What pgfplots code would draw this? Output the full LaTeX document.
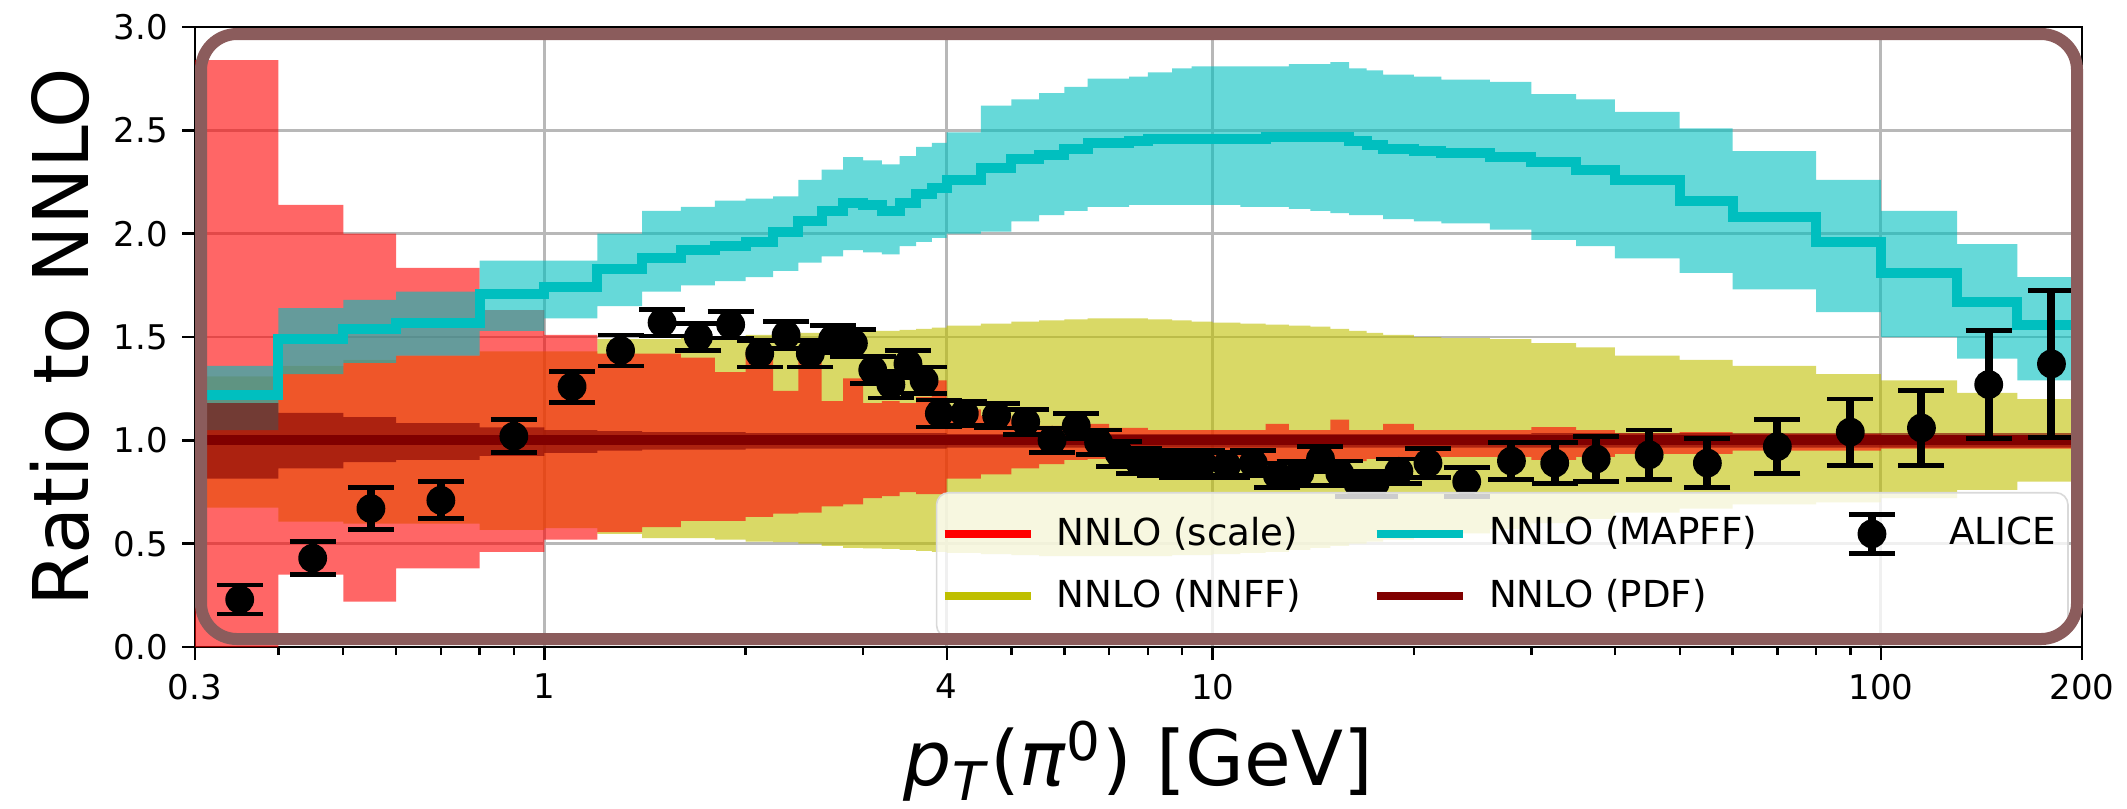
\documentclass[border=0pt]{standalone}
\usepackage{fontspec}
\setmainfont{DejaVu Sans}
\usepackage{pgfplots}
\usepackage{pgfplotstable}
\pgfplotsset{compat=1.18}
\usepgfplotslibrary{fillbetween}

\definecolor{nnffcol}{RGB}{191,191,0}
\definecolor{scalecol}{RGB}{255,0,0}
\definecolor{mapffcol}{RGB}{0,191,191}
\definecolor{pdfcol}{RGB}{128,0,0}
\definecolor{framecol}{RGB}{139,92,92}

% theory bins: left edge, NNFF band, scale band, MAPFF band (low/central/high), PDF band
\pgfplotstableread{
x     ylo    yhi    rlo    rhi    clo    cmid   chi    plo    phi
0.3   0.675  1.31   0.00   2.84   1.05   1.22   1.36   0.815  1.18
0.4   0.607  1.36   0.35   2.14   1.32   1.49   1.64   0.865  1.133
0.5   0.597  1.39   0.22   2.00   1.375  1.54   1.68   0.895  1.113
0.6   0.597  1.41   0.38   1.835  1.41   1.57   1.72   0.905  1.083
0.8   0.567  1.43   0.46   1.63   1.53   1.71   1.87   0.925  1.063
1.0   0.575  1.43   0.52   1.51   1.59   1.74   1.87   0.94   1.05
1.2   0.547  1.49   0.556  1.42   1.65   1.83   2.00   0.95   1.045
1.4   0.527  1.49   0.58   1.42   1.72   1.88   2.11   0.955  1.04
1.6   0.527  1.50   0.61   1.40   1.75   1.92   2.13   0.955  1.04
1.8   0.52   1.50   0.61   1.33   1.77   1.94   2.16   0.955  1.04
2.0   0.51   1.51   0.63   1.43   1.79   1.96   2.17   0.96   1.035
2.2   0.507  1.51   0.645  1.24   1.82   2.01   2.18   0.96   1.035
2.4   0.50   1.52   0.65   1.40   1.86   2.06   2.26   0.96   1.035
2.6   0.49   1.52   0.68   1.19   1.89   2.11   2.31   0.96   1.035
2.8   0.48   1.53   0.69   1.30   1.92   2.15   2.37   0.96   1.035
3.0   0.477  1.53   0.72   1.18   1.91   2.14   2.355  0.96   1.035
3.2   0.475  1.53   0.73   1.19   1.90   2.11   2.335  0.96   1.035
3.4   0.47   1.535  0.75   1.18   1.94   2.15   2.375  0.96   1.035
3.6   0.465  1.54   0.74   1.21   1.96   2.19   2.42   0.96   1.035
3.8   0.46   1.545  0.74   1.29   1.98   2.22   2.44   0.96   1.035
4.0   0.455  1.555  0.815  1.15   2.00   2.26   2.49   0.965  1.03
4.5   0.45   1.565  0.835  1.12   2.01   2.32   2.62   0.965  1.03
5.0   0.445  1.575  0.865  1.10   2.06   2.36   2.65   0.965  1.03
5.5   0.44   1.58   0.885  1.07   2.09   2.38   2.68   0.965  1.03
6.0   0.44   1.585  0.905  1.07   2.11   2.41   2.71   0.965  1.03
6.5   0.44   1.59   0.91   1.08   2.13   2.44   2.75   0.965  1.03
7.0   0.44   1.59   0.915  1.06   2.13   2.44   2.75   0.965  1.03
7.5   0.44   1.59   0.92   1.06   2.14   2.45   2.76   0.965  1.03
8.0   0.44   1.585  0.93   1.05   2.14   2.46   2.78   0.965  1.03
8.7   0.445  1.58   0.93   1.05   2.14   2.46   2.80   0.965  1.03
9.3   0.445  1.575  0.93   1.05   2.14   2.46   2.81   0.965  1.03
10    0.45   1.57   0.92   1.05   2.14   2.46   2.81   0.965  1.03
11    0.455  1.565  0.90   1.05   2.13   2.46   2.81   0.965  1.03
12    0.46   1.56   0.90   1.08   2.13   2.47   2.81   0.965  1.03
13    0.47   1.555  0.90   1.05   2.12   2.47   2.82   0.965  1.03
14    0.48   1.55   0.90   1.05   2.11   2.47   2.82   0.965  1.03
15    0.49   1.54   0.90   1.10   2.10   2.47   2.83   0.965  1.03
16    0.50   1.53   0.90   1.05   2.09   2.45   2.80   0.965  1.03
17    0.51   1.52   0.91   1.05   2.09   2.43   2.79   0.965  1.03
18    0.52   1.51   0.91   1.08   2.07   2.41   2.77   0.965  1.03
20    0.53   1.50   0.92   1.05   2.06   2.40   2.76   0.965  1.03
22    0.55   1.495  0.92   1.05   2.05   2.39   2.745  0.965  1.03
26    0.57   1.49   0.92   1.05   2.02   2.37   2.735  0.965  1.03
30    0.60   1.47   0.905  1.064  1.97   2.345  2.675  0.965  1.035
35    0.62   1.45   0.92   1.05   1.94   2.31   2.65   0.965  1.035
40    0.65   1.41   0.935  1.034  1.88   2.26   2.59   0.965  1.035
50    0.67   1.39   0.935  1.04   1.81   2.16   2.51   0.965  1.035
60    0.69   1.36   0.95   1.03   1.73   2.08   2.40   0.965  1.035
80    0.70   1.32   0.95   1.03   1.62   1.96   2.26   0.965  1.035
100   0.72   1.29   0.96   1.02   1.50   1.81   2.11   0.965  1.035
130   0.76   1.23   0.96   1.02   1.395  1.67   1.95   0.965  1.035
160   0.80   1.20   0.96   1.02   1.29   1.56   1.79   0.965  1.035
200   0.80   1.20   0.96   1.02   1.29   1.56   1.79   0.965  1.035
}\theory

% ALICE measurement: bin centre, ratio, uncertainty
\pgfplotstableread{
x     y      e
0.35  0.23   0.07
0.45  0.43   0.08
0.55  0.67   0.10
0.7   0.71   0.09
0.9   1.02   0.08
1.1   1.26   0.075
1.3   1.435  0.075
1.5   1.57   0.065
1.7   1.50   0.065
1.9   1.56   0.065
2.1   1.42   0.065
2.3   1.51   0.065
2.5   1.42   0.065
2.7   1.49   0.065
2.9   1.47   0.065
3.1   1.34   0.065
3.3   1.27   0.065
3.5   1.37   0.065
3.7   1.29   0.065
3.9   1.13   0.065
4.25  1.13   0.06
4.75  1.12   0.06
5.25  1.09   0.06
5.75  1.00   0.06
6.25  1.07   0.06
6.75  0.99   0.06
7.25  0.935  0.06
7.75  0.90   0.06
8.35  0.89   0.06
9.0   0.88   0.06
9.65  0.89   0.06
10.5  0.88   0.06
11.5  0.89   0.06
12.5  0.83   0.06
13.5  0.84   0.06
14.5  0.91   0.06
15.5  0.84   0.06
16.5  0.79   0.06
17.5  0.79   0.06
19    0.85   0.06
21    0.89   0.07
24    0.80   0.07
28    0.90   0.09
32.5  0.89   0.10
37.5  0.91   0.11
45    0.93   0.12
55    0.89   0.12
70    0.97   0.13
90    1.04   0.16
115   1.06   0.18
145   1.27   0.26
180   1.37   0.355
}\alice

\pgfplotsset{
  bandleg/.style={legend image code/.code={%
    \draw[##1, line width=2pt, draw opacity=1] (0pt,0pt) -- (21.5pt,0pt);}},
  dataleg/.style={legend image code/.code={%
    \path[draw=none] (0pt,0pt) -- (24.5pt,0pt);
    \draw[black, draw opacity=1, line width=2pt] (10.75pt,-4.9pt) -- (10.75pt,4.9pt);
    \draw[black, draw opacity=1, line width=1.2pt] (5pt,-4.9pt) -- (16.5pt,-4.9pt)
         (5pt,4.9pt) -- (16.5pt,4.9pt);
    \fill[black, fill opacity=1] (10.75pt,0pt) circle (3.4pt);}},
}

\begin{document}
\begin{tikzpicture}
\begin{axis}[
  scale only axis,
  width=471.75pt, height=155pt,
  xmode=log,
  xmin=0.3, xmax=200, ymin=0, ymax=3,
  xtick={0.3,1,4,10,100,200},
  xticklabels={0.3,1,4,10,100,200},
  minor xtick={0.4,0.5,0.6,0.7,0.8,0.9,2,3,5,6,7,8,9,20,30,40,50,60,70,80,90},
  ytick={0,0.5,1,1.5,2,2.5,3},
  yticklabels={0.0,0.5,1.0,1.5,2.0,2.5,3.0},
  tick pos=left,
  tick align=outside,
  major tick length=3.25pt,
  minor tick length=2pt,
  tick style={black, line width=0.6pt},
  axis line style={black, line width=0.6pt},
  grid=major,
  major grid style={black!28, line width=0.7pt},
  tick label style={font=\fontsize{8.5}{10}\selectfont},
  xlabel={\textit{p}\textsubscript{\textit{T}}(\textit{π}\textsuperscript{0}) [GeV]},
  ylabel={Ratio to NNLO},
  xlabel style={font=\fontsize{19}{23}\selectfont, at={(axis description cs:0.5,-0.2235)}, anchor=base},
  ylabel style={font=\fontsize{19.2}{23}\selectfont, at={(axis description cs:-0.0567,0.5)}, anchor=base},
  legend columns=3,
  legend style={at={(0.993,0.0145)}, anchor=south east,
    font=\fontsize{9.3}{11}\selectfont,
    fill=white, fill opacity=0.8, draw opacity=1, text opacity=1,
    draw=black!15, rounded corners=3pt,
    inner xsep=1pt, inner ysep=4pt, row sep=3pt,
    /tikz/every odd column/.append style={column sep=3.6pt},
    /tikz/every even column/.append style={column sep=16pt},
    /tikz/column 4/.append style={column sep=19.5pt}},
  legend cell align=left,
]
% NNFF band
\addplot[name path=yl, draw=none, const plot, forget plot] table[x=x, y=ylo] {\theory};
\addplot[name path=yh, draw=none, const plot, forget plot] table[x=x, y=yhi] {\theory};
\addplot[fill=nnffcol, fill opacity=0.6, draw=none, forget plot] fill between[of=yl and yh];
% scale band
\addplot[name path=rl, draw=none, const plot, forget plot] table[x=x, y=rlo] {\theory};
\addplot[name path=rh, draw=none, const plot, forget plot] table[x=x, y=rhi] {\theory};
\addplot[fill=scalecol, fill opacity=0.6, draw=none, forget plot] fill between[of=rl and rh];
% MAPFF band
\addplot[name path=cl, draw=none, const plot, forget plot] table[x=x, y=clo] {\theory};
\addplot[name path=ch, draw=none, const plot, forget plot] table[x=x, y=chi] {\theory};
\addplot[fill=mapffcol, fill opacity=0.6, draw=none, forget plot] fill between[of=cl and ch];
% PDF band
\addplot[name path=pl, draw=none, const plot, forget plot] table[x=x, y=plo] {\theory};
\addplot[name path=ph, draw=none, const plot, forget plot] table[x=x, y=phi] {\theory};
\addplot[fill=pdfcol, fill opacity=0.6, draw=none, forget plot] fill between[of=pl and ph];
% central values
\addplot[mapffcol, line width=2.5pt, const plot, forget plot] table[x=x, y=cmid] {\theory};
\addplot[pdfcol, line width=2.5pt, forget plot] coordinates {(0.3,1) (200,1)};
% ALICE points
\addplot[black, only marks, mark=*, mark size=3.4pt, forget plot,
  error bars/.cd, y dir=both, y explicit,
  error bar style={line width=2pt},
  error mark options={rotate=90, mark size=5.75pt, line width=1.2pt}]
  table[x=x, y=y, y error=e] {\alice};
% legend entries, row by row
\addlegendimage{bandleg, scalecol}
\addlegendentry{NNLO (scale)}
\addlegendimage{bandleg, mapffcol}
\addlegendentry{NNLO (MAPFF)}
\addlegendimage{dataleg}
\addlegendentry{ALICE}
\addlegendimage{bandleg, nnffcol}
\addlegendentry{NNLO (NNFF)}
\addlegendimage{bandleg, pdfcol}
\addlegendentry{NNLO (PDF)}
\end{axis}
% highlight frame around the plot area
\draw[framecol, line width=3pt, rounded corners=9pt] (1.5pt,2pt) rectangle (470.5pt,153.25pt);
\pgfresetboundingbox
\path[use as bounding box] (-48.75pt,-40.25pt) rectangle (483pt,161.75pt);
\end{tikzpicture}
\end{document}
